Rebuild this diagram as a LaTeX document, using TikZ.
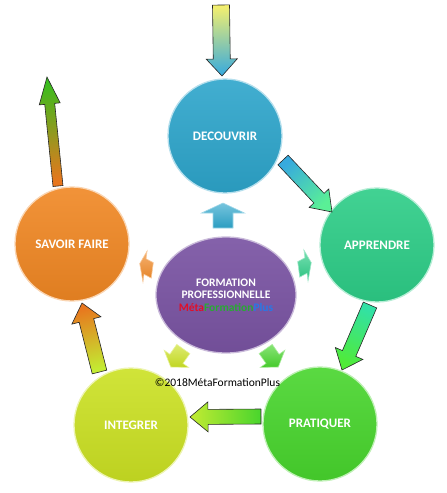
\documentclass[tikz,border=0pt]{standalone}
\usepackage{fontspec}
\setmainfont{Carlito}
\usetikzlibrary{calc,shapes.geometric}
\definecolor{cDec}{RGB}{45,165,203}
\definecolor{cApp}{RGB}{45,205,135}
\definecolor{cPra}{RGB}{72,213,45}
\definecolor{cInt}{RGB}{203,225,35}
\definecolor{cSav}{RGB}{240,135,35}
\definecolor{cPur}{RGB}{122,84,163}
\definecolor{aYel}{RGB}{245,240,110}
\definecolor{aBlu}{RGB}{55,170,222}
\definecolor{aMint}{RGB}{90,240,150}
\definecolor{aMint2}{RGB}{50,225,165}
\definecolor{aGrn}{RGB}{80,235,55}
\definecolor{aYG}{RGB}{195,235,50}
\definecolor{aOra}{RGB}{232,118,30}
\definecolor{aGrn2}{RGB}{55,190,30}
\definecolor{tRed}{RGB}{225,15,40}
\definecolor{tGrn}{RGB}{40,170,50}
\definecolor{tBlu}{RGB}{40,120,230}
\newcommand\labfont{\fontsize{13}{15}\selectfont\bfseries}
\newcommand\blockarr[8]{%
  \coordinate (ba-h) at ($(#2)!#5!(#1)$);
  \draw[bigarrow, bottom color=#6, top color=#7, shading angle=#8]
    ($(#1)!#3!90:(#2)$) -- ($(ba-h)!#3!90:(#2)$) -- ($(ba-h)!#4!90:(#2)$) -- (#2)
    -- ($(ba-h)!#4!-90:(#2)$) -- ($(ba-h)!#3!-90:(#2)$) -- ($(#1)!#3!-90:(#2)$) -- cycle;}
\newcommand\smallarr[8]{%
  \begin{scope}[shift={#1}, xscale=#3, rotate=#2]
    \draw[smallar=#8] ({-#4/2},{-#6}) -- ({#4/2-#7},{-#6}) -- ({#4/2-#7},{-#5}) -- ({#4/2},0)
      -- ({#4/2-#7},{#5}) -- ({#4/2-#7},{#6}) -- ({-#4/2},{#6}) -- cycle;
  \end{scope}}
\tikzset{
  bigarrow/.style={draw=black!85, line width=0.6pt, line join=miter},
  smallar/.style={top color=#1!65!white, bottom color=#1!95!black, draw=#1!45!white, line width=0.6pt},
  ball/.style={circle, minimum size=114pt, inner sep=0pt, draw=#1!35!white, line width=1.3pt,
    top color=#1!90!white, bottom color=#1!93!black, text=white, font=\labfont},
}
\begin{document}
\begin{tikzpicture}[x=1pt,y=-1pt]
\useasboundingbox (0,0) rectangle (447,493);
% circles
\node[ball=cDec] (d) at (225,136) {DECOUVRIR};
\node[ball=cApp] (a) at (377,245) {APPRENDRE};
\node[ball=cPra] (p) at (320,424) {PRATIQUER};
\node[ball=cInt] (i) at (131,425) {INTEGRER};
\node[ball=cSav] (s) at (72,244) {SAVOIR FAIRE};
\node[ellipse, minimum width=140pt, minimum height=116pt, inner sep=0pt,
  draw=cPur!40!white, line width=1.3pt, top color=cPur!92!white, bottom color=cPur!93!black,
  text=white, align=center, font=\fontsize{11.5}{12.5}\selectfont\bfseries] (c) at (226,295)
  {FORMATION\\PROFESSIONNELLE\\\textcolor{tRed}{Méta}\textcolor{tGrn}{Formation}\textcolor{tBlu}{Plus}};
% connector end points
\coordinate (t1) at (221,5);   \coordinate (h1) at (222,76);
\coordinate (t2) at (283,160); \coordinate (h2) at (332,212);
\coordinate (t3) at (370,305); \coordinate (h3) at (342,370);
\coordinate (t4) at (261,416.5); \coordinate (h4) at (190,417);
\coordinate (t5) at (99.5,372); \coordinate (h5) at (82,303);
\coordinate (t6) at (58,186);  \coordinate (h6) at (47,77);
% big arrows
\blockarr{t1}{h1}{8.5pt}{15.5pt}{17pt}{aYel}{aBlu}{-179}
\blockarr{t2}{h2}{7pt}{13.5pt}{19pt}{aBlu}{aMint}{-136.7}
\blockarr{t3}{h3}{7.3pt}{15pt}{18pt}{aMint2}{aGrn}{156.7}
\blockarr{t4}{h4}{7.5pt}{15pt}{18pt}{cPra}{aYG}{90}
\blockarr{t5}{h5}{7.5pt}{15pt}{18pt}{aYG}{aOra}{14.2}
\blockarr{t6}{h6}{5pt}{10.5pt}{27pt}{aOra}{aGrn2}{5.8}
% small arrows around the centre
\smallarr{(223,215.5)}{90}{1}{25}{21.5}{10}{10}{cDec}
\smallarr{(146,267)}{165}{0.5}{26}{16}{8}{11}{cSav}
\smallarr{(305,266)}{15}{0.5}{26}{16}{8}{11}{cApp}
\smallarr{(177,358)}{-125}{1}{22}{15}{8}{10}{cInt}
\smallarr{(272,358)}{-55}{1}{22}{15}{8}{10}{cPra}
% copyright
\node[font=\fontsize{11.5}{13}\selectfont, text=black, inner sep=0pt] (cp) at (217.5,383) {©2018MétaFormationPlus};
\end{tikzpicture}
\end{document}
